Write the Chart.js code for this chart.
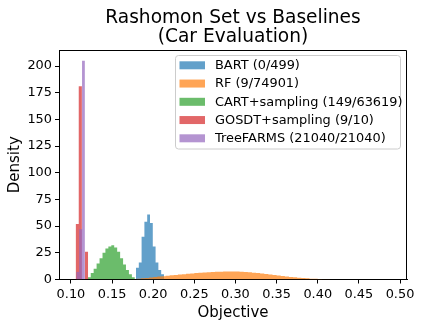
<!DOCTYPE html>
<html lang="en">
<head>
    <meta charset="UTF-8">
    <title>Rashomon Set vs Baselines</title>
    <style>
        html, body { margin: 0; padding: 0; background: #fff; }
        #chartBox { width: 423px; height: 326px; }
    </style>
</head>
<body>
<div id="chartBox">
    <canvas id="histChart" width="423" height="326"></canvas>
</div>

<script src="https://cdn.jsdelivr.net/npm/chart.js"></script>

<script>
    // Title lines
    const titleLines = ["Rashomon Set vs Baselines", "(Car Evaluation)"];

    // Legend labels, same order as the series below
    const seriesLabels = [
        "BART (0/499)",
        "RF (9/74901)",
        "CART+sampling (149/63619)",
        "GOSDT+sampling (9/10)",
        "TreeFARMS (21040/21040)"
    ];

    // Histogram bin edges and densities
    const bartEdges = [0.1791, 0.1825, 0.1859, 0.1893, 0.1927, 0.1961, 0.1995, 0.2029, 0.2063, 0.2097, 0.2131];
    const bartDensity = [11, 16, 40, 54, 61, 53, 31, 16, 9, 5];

    const rfEdges = [0.175, 0.180, 0.185, 0.190, 0.195, 0.200, 0.205, 0.210, 0.215, 0.220,
        0.225, 0.230, 0.235, 0.240, 0.245, 0.250, 0.255, 0.260, 0.265, 0.270,
        0.275, 0.280, 0.285, 0.290, 0.295, 0.300, 0.305, 0.310, 0.315, 0.320,
        0.325, 0.330, 0.335, 0.340, 0.345, 0.350, 0.355, 0.360, 0.365, 0.370,
        0.375, 0.380, 0.385, 0.390, 0.395, 0.400, 0.405, 0.410, 0.415, 0.420, 0.425];
    const rfDensity = [0.3, 0.7, 1.1, 1.5, 1.9, 2.3, 2.7, 3.1, 3.5, 3.9,
        4.3, 4.7, 5.0, 5.4, 5.7, 6.0, 6.3, 6.6, 6.8, 7.0,
        7.2, 7.3, 7.4, 7.5, 7.5, 7.4, 7.2, 7.0, 6.7, 6.4,
        6.0, 5.6, 5.2, 4.7, 4.2, 3.7, 3.2, 2.8, 2.4, 2.0,
        1.7, 1.4, 1.1, 0.8, 0.6, 0.4, 0.3, 0.2, 0.1, 0.05];

    const cartEdges = [0.1205, 0.1241, 0.1276, 0.1312, 0.1348, 0.1384, 0.1419, 0.1455, 0.1491,
        0.1526, 0.1562, 0.1598, 0.1634, 0.1669, 0.1705, 0.1741, 0.1777];
    const cartDensity = [2, 6, 10, 15, 20, 25, 29, 31, 32, 30, 26, 20, 14, 9, 5, 2];

    const gosdtEdges = [0.1057, 0.1095, 0.1133, 0.1171, 0.1209];
    const gosdtDensity = [52, 181, 0, 26];

    const treefarmsEdges = [0.1065, 0.1100, 0.1135, 0.1170];
    const treefarmsDensity = [7, 47, 205];

    // Axis ticks
    const xTicks = [0.10, 0.15, 0.20, 0.25, 0.30, 0.35, 0.40, 0.45, 0.50];
    const yTicks = [0, 25, 50, 75, 100, 125, 150, 175, 200];

    // matplotlib tab colours at alpha 0.7
    const seriesColors = [
        "rgba(31,119,180,0.7)",
        "rgba(255,127,14,0.7)",
        "rgba(44,160,44,0.7)",
        "rgba(214,39,40,0.7)",
        "rgba(148,103,189,0.7)"
    ];

    const FONT = "'DejaVu Sans', 'Liberation Sans', sans-serif";

    // Turn bin edges + heights into a closed step outline
    function stepPoints(edges, heights) {
        let pts = [{x: edges[0], y: 0}];
        heights.forEach((h, i) => pts.push({x: edges[i], y: h}));
        pts.push({x: edges[edges.length - 1], y: heights[heights.length - 1]});
        pts.push({x: edges[edges.length - 1], y: 0});
        return pts;
    }

    const allEdges = [bartEdges, rfEdges, cartEdges, gosdtEdges, treefarmsEdges];
    const allDensity = [bartDensity, rfDensity, cartDensity, gosdtDensity, treefarmsDensity];

    const datasets = seriesLabels.map((label, i) => ({
        label: label,
        data: stepPoints(allEdges[i], allDensity[i]),
        stepped: true,
        fill: 'origin',
        backgroundColor: seriesColors[i],
        borderColor: 'rgba(0,0,0,0)',
        borderWidth: 0,
        pointRadius: 0,
        // first series drawn first (underneath), like matplotlib
        order: seriesLabels.length - i
    }));

    // Title, legend box and top/right spines
    const decorPlugin = {
        id: 'decor',
        afterDraw(chart) {
            const ctx = chart.ctx;
            const area = chart.chartArea;
            ctx.save();

            // top and right spines
            ctx.strokeStyle = '#000';
            ctx.lineWidth = 1;
            ctx.beginPath();
            ctx.moveTo(area.left, area.top + 0.5);
            ctx.lineTo(area.right - 0.5, area.top + 0.5);
            ctx.lineTo(area.right - 0.5, area.bottom);
            ctx.stroke();

            // title
            ctx.fillStyle = '#000';
            ctx.font = "18.6px " + FONT;
            ctx.textAlign = 'center';
            ctx.textBaseline = 'alphabetic';
            const cx = (area.left + area.right) / 2;
            ctx.fillText(titleLines[0], cx, 22.5);
            ctx.fillText(titleLines[1], cx, 42);

            // legend frame
            const lx = 175.5, ly = 55.5, lw = 225, lh = 93.5, r = 3;
            ctx.beginPath();
            ctx.moveTo(lx + r, ly);
            ctx.lineTo(lx + lw - r, ly);
            ctx.arcTo(lx + lw, ly, lx + lw, ly + r, r);
            ctx.lineTo(lx + lw, ly + lh - r);
            ctx.arcTo(lx + lw, ly + lh, lx + lw - r, ly + lh, r);
            ctx.lineTo(lx + r, ly + lh);
            ctx.arcTo(lx, ly + lh, lx, ly + lh - r, r);
            ctx.lineTo(lx, ly + r);
            ctx.arcTo(lx, ly, lx + r, ly, r);
            ctx.closePath();
            ctx.fillStyle = 'rgba(255,255,255,0.8)';
            ctx.fill();
            ctx.strokeStyle = '#cccccc';
            ctx.lineWidth = 1;
            ctx.stroke();

            // legend rows
            ctx.font = "12.9px " + FONT;
            ctx.textAlign = 'left';
            ctx.textBaseline = 'middle';
            seriesLabels.forEach((label, i) => {
                const rowY = 65.3 + i * 18.25;
                ctx.fillStyle = seriesColors[i];
                ctx.fillRect(179.5, rowY - 4, 25.5, 8);
                ctx.fillStyle = '#000';
                ctx.fillText(label, 215, rowY + 0.5);
            });

            ctx.restore();
        }
    };

    const ctxHist = document.getElementById('histChart');

    const histChart = new Chart(ctxHist, {
        type: 'line',
        data: { datasets: datasets },
        options: {
            responsive: false,
            animation: false,
            events: [],
            layout: {
                padding: { top: 50, right: 16, left: 0, bottom: 0 }
            },
            plugins: {
                legend: { display: false },
                title: { display: false },
                tooltip: { enabled: false }
            },
            scales: {
                x: {
                    type: 'linear',
                    min: 0.0855,
                    max: 0.5085,
                    afterBuildTicks: (scale) => {
                        scale.ticks = xTicks.map(v => ({ value: v }));
                    },
                    afterFit: (scale) => { scale.height = 46.5; },
                    ticks: {
                        color: '#000',
                        padding: 3,
                        maxRotation: 0,
                        font: { family: FONT, size: 12.9 },
                        callback: (v) => Number(v).toFixed(2)
                    },
                    grid: {
                        drawOnChartArea: false,
                        drawTicks: true,
                        tickLength: 4,
                        color: '#000'
                    },
                    border: { display: true, color: '#000', width: 1 },
                    title: {
                        display: true,
                        text: 'Objective',
                        color: '#000',
                        font: { family: FONT, size: 15 },
                        padding: { top: 0, bottom: 4 }
                    }
                },
                y: {
                    min: 0,
                    max: 215,
                    afterBuildTicks: (scale) => {
                        scale.ticks = yTicks.map(v => ({ value: v }));
                    },
                    afterFit: (scale) => { scale.width = 59; },
                    ticks: {
                        color: '#000',
                        padding: 3,
                        font: { family: FONT, size: 12.9 },
                        callback: (v) => String(v)
                    },
                    grid: {
                        drawOnChartArea: false,
                        drawTicks: true,
                        tickLength: 4,
                        color: '#000'
                    },
                    border: { display: true, color: '#000', width: 1 },
                    title: {
                        display: true,
                        text: 'Density',
                        color: '#000',
                        font: { family: FONT, size: 15 },
                        padding: { top: 6, bottom: 0 }
                    }
                }
            }
        },
        plugins: [decorPlugin]
    });
</script>

</body>
</html>
